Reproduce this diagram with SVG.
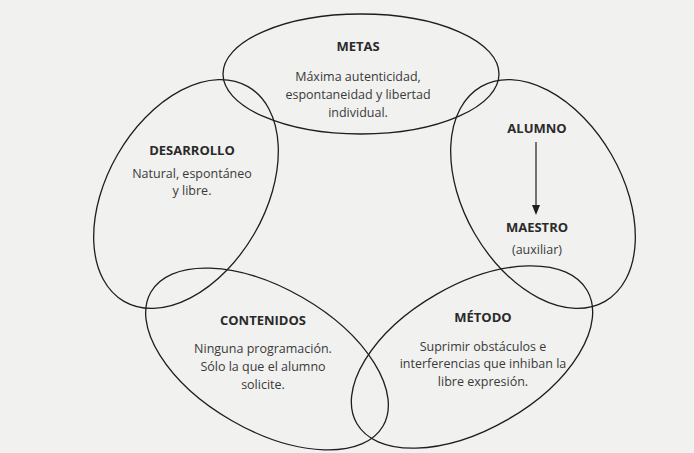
<svg xmlns="http://www.w3.org/2000/svg" width="694" height="453" viewBox="0 0 694 453">
<style>
.e{fill:none;stroke:#1e1e1e;stroke-width:1.3}
.h{font-family:"Open Sans","Noto Sans",sans-serif;font-weight:bold;font-size:13px;fill:#2a2a2a;text-anchor:middle}
.t{font-family:"Open Sans","Noto Sans",sans-serif;font-size:12.5px;fill:#3a3a3a;text-anchor:middle}
</style>
<rect width="694" height="453" fill="#f1f1f0"/>
<g id="metas">
<ellipse class="e" cx="361" cy="74" rx="138" ry="60"/>
<text class="h" x="358" y="51">METAS</text>
<text class="t" x="358" y="81">Máxima autenticidad,</text>
<text class="t" x="358" y="99">espontaneidad y libertad</text>
<text class="t" x="358" y="117">individual.</text>
</g>
<g id="desarrollo">
<ellipse class="e" cx="186" cy="194" rx="124" ry="79" transform="rotate(-60 186 194)"/>
<text class="h" x="192" y="155">DESARROLLO</text>
<text class="t" x="192" y="178">Natural, espontáneo</text>
<text class="t" x="192" y="195">y libre.</text>
</g>
<g id="alumno">
<ellipse class="e" cx="543" cy="194" rx="124" ry="79" transform="rotate(60 543 194)"/>
<text class="h" x="537" y="133">ALUMNO</text>
<text class="h" x="537" y="232">MAESTRO</text>
<text class="t" x="537" y="254">(auxiliar)</text>
</g>
<g id="contenidos">
<ellipse class="e" cx="267" cy="359" rx="134" ry="71" transform="rotate(30 267 359)"/>
<text class="h" x="263" y="325">CONTENIDOS</text>
<text class="t" x="263" y="353">Ninguna programación.</text>
<text class="t" x="263" y="371">Sólo la que el alumno</text>
<text class="t" x="263" y="389">solicite.</text>
</g>
<g id="metodo">
<ellipse class="e" cx="472" cy="357" rx="133" ry="72" transform="rotate(-30 472 357)"/>
<text class="h" x="483" y="322">MÉTODO</text>
<text class="t" x="483" y="351">Suprimir obstáculos e</text>
<text class="t" x="483" y="368">interferencias que inhiban la</text>
<text class="t" x="483" y="386">libre expresión.</text>
</g>
<g id="connectors">
<line x1="536" y1="142" x2="536" y2="210" stroke="#1e1e1e" stroke-width="1.2"/>
<path d="M532,205 L536,215 L540,205 Z" fill="#1e1e1e"/>
</g>
</svg>
